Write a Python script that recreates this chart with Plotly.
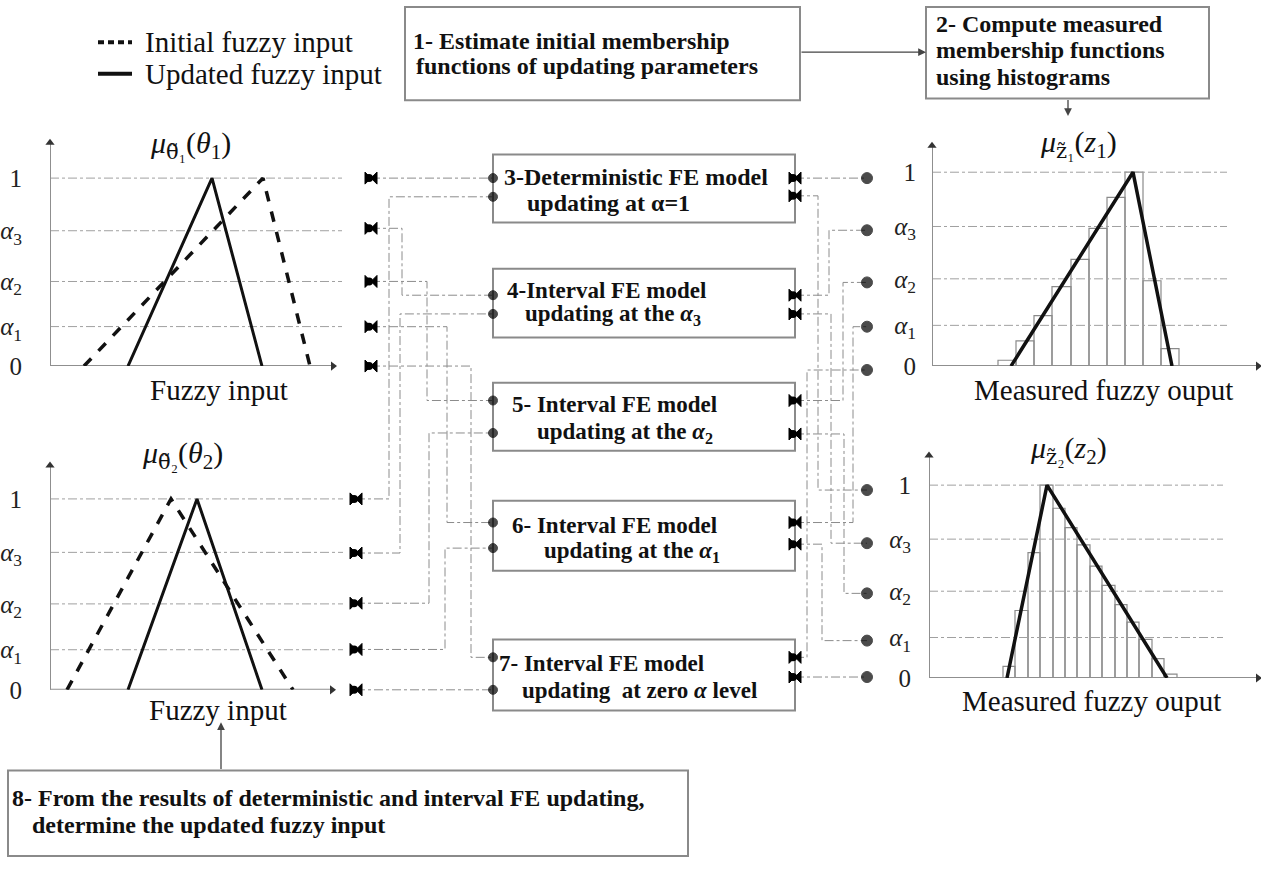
import plotly.graph_objects as go

W, H = 1261, 877
FONT = "Liberation Serif"

# ---------------- data ----------------
alpha_levels = [0.0, 0.21, 0.45, 0.72, 1.0]
alpha_ticktext = ["0", "<i>α</i><sub>1</sub>", "<i>α</i><sub>2</sub>", "<i>α</i><sub>3</sub>", "1"]
membership = [0, 1, 0]

theta1_initial = [3.4, 21.3, 26.0]
theta1_updated = [7.8, 16.2, 21.2]
theta2_initial = [1.7, 12.1, 24.3]
theta2_updated = [7.8, 14.7, 21.2]

z1_fit = [7.9, 20.1, 24.0]
z1_bin_edges = [6.6, 8.4, 10.2, 12.0, 13.9, 15.7, 17.5, 19.3, 21.1, 22.9, 24.7]
z1_counts = [0.03, 0.13, 0.26, 0.41, 0.55, 0.71, 0.87, 1.0, 0.44, 0.09]

z2_fit = [7.8, 11.8, 23.8]
z2_bin_edges = [7.4, 8.6, 9.9, 11.1, 12.4, 13.6, 14.8, 16.1, 17.3, 18.6, 19.8, 21.0, 22.3, 23.5, 24.8]
z2_counts = [0.06, 0.35, 0.65, 1.0, 0.88, 0.78, 0.69, 0.58, 0.48, 0.38, 0.29, 0.20, 0.10, 0.02]

# ---------------- chart placement (pixels) ----------------
charts = [
    dict(ox=50, base=372, one=181, tip=145, top=138, right=345, xtip=28.3, lvl_end=29.2, ticklen=22),
    dict(ox=50, base=701, one=507, tip=473, top=466, right=345, xtip=28.2, lvl_end=29.3, ticklen=22),
    dict(ox=932, base=372, one=175, tip=148, top=141, right=1261, xtip=32.6, lvl_end=29.5, ticklen=10),
    dict(ox=929, base=689, one=493, tip=463, top=456, right=1261, xtip=32.9, lvl_end=29.4, ticklen=12),
]
XUNIT = 10.0  # px per x unit

fig = go.Figure()
layout = dict(width=W, height=H, margin=dict(l=0, r=0, t=0, b=0),
              paper_bgcolor="white", plot_bgcolor="rgba(0,0,0,0)",
              showlegend=False, barmode="overlay")

AXC = "#8f8f8f"
LVLC = "#a0a0a0"

for i, c in enumerate(charts, start=1):
    per = c["base"] - c["one"]
    yr = (c["base"] - c["top"]) / per
    xr = (c["right"] - c["ox"]) / XUNIT
    ytip = (c["base"] - c["tip"]) / per
    sfx = "" if i == 1 else str(i)
    layout["xaxis" + sfx] = dict(domain=[c["ox"] / W, c["right"] / W], range=[0, xr],
                                 showgrid=False, zeroline=False, showticklabels=False,
                                 showline=False, anchor="y" + sfx, fixedrange=True)
    layout["yaxis" + sfx] = dict(domain=[(H - c["base"]) / H, (H - c["top"]) / H], range=[0, yr],
                                 showgrid=False, zeroline=False, showline=False,
                                 anchor="x" + sfx, tickvals=alpha_levels, ticktext=alpha_ticktext,
                                 ticks="outside", ticklen=c["ticklen"], tickcolor="rgba(0,0,0,0)",
                                 tickfont=dict(family=FONT, size=25, color="#222"), fixedrange=True)
    xa, ya = "x" + sfx, "y" + sfx
    # alpha level reference lines
    lx, ly = [], []
    for a in alpha_levels[1:]:
        lx += [0, c["lvl_end"], None]
        ly += [a, a, None]
    fig.add_trace(go.Scatter(x=lx, y=ly, mode="lines", xaxis=xa, yaxis=ya,
                             line=dict(color=LVLC, width=1, dash="dashdot"), hoverinfo="skip"))
    # axes with arrowheads
    fig.add_trace(go.Scatter(x=[0, 0, None, 0, c["xtip"]], y=[0, ytip, None, 0, 0], mode="lines",
                             xaxis=xa, yaxis=ya, line=dict(color=AXC, width=2), hoverinfo="skip"))
    fig.add_trace(go.Scatter(x=[0, c["xtip"]], y=[ytip, 0], mode="markers", xaxis=xa, yaxis=ya,
                             marker=dict(symbol=["triangle-up", "triangle-right"], size=8, color="#333"),
                             cliponaxis=False, hoverinfo="skip"))

# membership functions of the inputs
fig.add_trace(go.Scatter(x=theta1_initial, y=membership, mode="lines", xaxis="x", yaxis="y",
                         line=dict(color="#111", width=3.5, dash="dash")))
fig.add_trace(go.Scatter(x=theta1_updated, y=membership, mode="lines", xaxis="x", yaxis="y",
                         line=dict(color="#111", width=3)))
fig.add_trace(go.Scatter(x=theta2_initial, y=membership, mode="lines", xaxis="x2", yaxis="y2",
                         line=dict(color="#111", width=3.5, dash="dash")))
fig.add_trace(go.Scatter(x=theta2_updated, y=membership, mode="lines", xaxis="x2", yaxis="y2",
                         line=dict(color="#111", width=3)))

# measured outputs: histograms + fitted triangle
def hist(edges, counts, xa, ya):
    centers = [(edges[k] + edges[k + 1]) / 2 for k in range(len(counts))]
    widths = [edges[k + 1] - edges[k] for k in range(len(counts))]
    fig.add_trace(go.Bar(x=centers, y=counts, width=widths, xaxis=xa, yaxis=ya,
                         marker=dict(color="rgba(0,0,0,0)", line=dict(color="#8a8a8a", width=1.2))))

hist(z1_bin_edges, z1_counts, "x3", "y3")
fig.add_trace(go.Scatter(x=z1_fit, y=membership, mode="lines", xaxis="x3", yaxis="y3",
                         line=dict(color="#111", width=3.5)))
hist(z2_bin_edges, z2_counts, "x4", "y4")
fig.add_trace(go.Scatter(x=z2_fit, y=membership, mode="lines", xaxis="x4", yaxis="y4",
                         line=dict(color="#111", width=3.5)))

# ---------------- flowchart overlay (pixel axis) ----------------
layout["xaxis5"] = dict(domain=[0, 1], range=[0, W], visible=False, anchor="y5", fixedrange=True)
layout["yaxis5"] = dict(domain=[0, 1], range=[H, 0], visible=False, anchor="x5", fixedrange=True)

connectors = [
    [(371, 181), (493, 181)],
    [(356, 507), (389, 507), (389, 200), (493, 200)],
    [(371, 232), (402, 232), (402, 300), (493, 300)],
    [(356, 562), (400, 562), (400, 319), (493, 319)],
    [(371, 286), (427, 286), (427, 407), (493, 407)],
    [(356, 613), (429, 613), (429, 440), (493, 440)],
    [(371, 332), (447, 332), (447, 531), (493, 531)],
    [(356, 660), (445, 660), (445, 557), (493, 557)],
    [(371, 372), (471, 372), (471, 668), (493, 668)],
    [(356, 701), (493, 701)],
    [(795, 181), (867, 181)],
    [(795, 199), (818, 199), (818, 498), (867, 498)],
    [(795, 300), (829, 300), (829, 234), (867, 234)],
    [(795, 319), (831, 319), (831, 552), (867, 552)],
    [(795, 407), (843, 407), (843, 287), (867, 287)],
    [(795, 441), (844, 441), (844, 603), (867, 603)],
    [(795, 531), (853, 531), (853, 332), (867, 332)],
    [(795, 553), (822, 553), (822, 651), (867, 651)],
    [(795, 668), (807, 668), (807, 376), (865, 376)],
    [(795, 688), (867, 688)],
]
cx, cy = [], []
for path in connectors:
    for (px, py) in path:
        cx.append(px); cy.append(py)
    cx.append(None); cy.append(None)
fig.add_trace(go.Scatter(x=cx, y=cy, mode="lines", xaxis="x5", yaxis="y5",
                         line=dict(color="#8c8c8c", width=1, dash="dashdot"), hoverinfo="skip"))

# bow-tie end markers
bt_x = [371] * 5 + [356] * 5 + [795] * 10
bt_y = [181, 232, 286, 332, 372, 507, 562, 613, 660, 701,
        181, 199, 300, 319, 407, 441, 531, 553, 668, 688]
fig.add_trace(go.Scatter(x=bt_x, y=bt_y, mode="markers", xaxis="x5", yaxis="y5",
                         marker=dict(symbol="bowtie", size=12, color="#000",
                                     line=dict(color="#000", width=1)), hoverinfo="skip"))
fig.add_trace(go.Scatter(x=[v - 2 for v in bt_x], y=bt_y, mode="markers", xaxis="x5", yaxis="y5",
                         marker=dict(symbol="circle", size=8, color="#000"), hoverinfo="skip"))
# plain dots
dot_x = [493] * 10 + [867] * 10
dot_y = [181, 200, 300, 319, 407, 440, 531, 557, 668, 701,
         181, 234, 287, 332, 376, 498, 552, 603, 651, 688]
fig.add_trace(go.Scatter(x=dot_x, y=dot_y, mode="markers", xaxis="x5", yaxis="y5",
                         marker=dict(symbol="circle", size=[9] * 10 + [11] * 10, color="#000",
                                     line=dict(color="#000", width=1)),
                         hoverinfo="skip"))

# legend samples
fig.add_trace(go.Scatter(x=[98, 132], y=[43, 43], mode="lines", xaxis="x5", yaxis="y5",
                         line=dict(color="#111", width=4, dash="6px,4px")))
fig.add_trace(go.Scatter(x=[98, 132], y=[75, 75], mode="lines", xaxis="x5", yaxis="y5",
                         line=dict(color="#111", width=4)))

shapes = []
boxes = [(405, 7, 800, 102), (926, 7, 1209, 100), (493, 157, 795, 226), (493, 273, 795, 343),
         (493, 389, 795, 458), (493, 509, 795, 580), (493, 650, 795, 722), (8, 783, 688, 870)]
for (x0, y0, x1, y1) in boxes:
    shapes.append(dict(type="rect", xref="x5", yref="y5", x0=x0, y0=y0, x1=x1, y1=y1,
                       line=dict(color="#8a8a8a", width=2), fillcolor="rgba(0,0,0,0)", layer="below"))
layout["shapes"] = shapes

ann = []
def txt(x, y, s, size=24, bold=True, anchor="left"):
    ann.append(dict(x=x, y=y, xref="x5", yref="y5", text=("<b>%s</b>" % s) if bold else s,
                    showarrow=False, xanchor=anchor, yanchor="middle",
                    font=dict(family=FONT, size=size, color="#111")))

def arrow(x0, y0, x1, y1):
    ann.append(dict(x=x1, y=y1, ax=x0, ay=y0, xref="x5", yref="y5", axref="x5", ayref="y5",
                    text="", showarrow=True, arrowhead=2, arrowsize=1.2, arrowwidth=1.3,
                    arrowcolor="#444"))

# legend text
txt(143, 43, "Initial fuzzy input", size=29, bold=False)
txt(143, 75, "Updated fuzzy input", size=29, bold=False)

# boxes text
txt(411, 42, "1- Estimate initial membership")
txt(414, 67, "functions of updating parameters")
txt(934, 24, "2- Compute measured")
txt(934, 51, "membership functions")
txt(934, 78, "using histograms")
txt(502, 180, "3-Deterministic FE model", size=24)
txt(525, 206, "updating at α=1", size=24)
txt(505, 295, "4-Interval FE model", size=23)
txt(523, 320, "updating at the <i>α</i><sub>3</sub>", size=23)
txt(510, 411, "5- Interval FE model", size=23)
txt(535, 440, "updating at the <i>α</i><sub>2</sub>", size=23)
txt(510, 534, "6- Interval FE model", size=23)
txt(542, 561, "updating at the <i>α</i><sub>1</sub>", size=23)
txt(497, 674, "7- Interval FE model", size=23)
txt(520, 702, "updating  at zero <i>α</i> level", size=23)
txt(10, 811, "8- From the results of deterministic and interval FE updating,")
txt(30, 838, "determine the updated fuzzy input")

# axis titles / labels
TIL = "<span style='font-family:DejaVu Serif'>%s</span>"
txt(190, 147, "<i>μ</i><sub>" + TIL % "θ̃" + "₁</sub>(<i>θ</i><sub>1</sub>)", size=30, bold=False, anchor="center")
txt(182, 462, "<i>μ</i><sub>" + TIL % "θ̃" + "₂</sub>(<i>θ</i><sub>2</sub>)", size=30, bold=False, anchor="center")
txt(1078, 146, "<i>μ</i><sub>" + TIL % "z̃" + "₁</sub>(<i>z</i><sub>1</sub>)", size=30, bold=False, anchor="center")
txt(1068, 457, "<i>μ</i><sub>" + TIL % "z̃" + "₂</sub>(<i>z</i><sub>2</sub>)", size=30, bold=False, anchor="center")
txt(219, 396, "Fuzzy input", size=29, bold=False, anchor="center")
txt(218, 722, "Fuzzy input", size=29, bold=False, anchor="center")
txt(1103, 396, "Measured fuzzy ouput", size=29, bold=False, anchor="center")
txt(1091, 712, "Measured fuzzy ouput", size=29, bold=False, anchor="center")

# flow arrows
arrow(800, 53, 926, 53)
arrow(1068, 100, 1068, 118)
arrow(221, 783, 221, 734)

layout["annotations"] = ann
fig.update_layout(**layout)

fig.write_html("out.html", config={"displayModeBar": False},
               post_script="document.body.style.margin='0';")
